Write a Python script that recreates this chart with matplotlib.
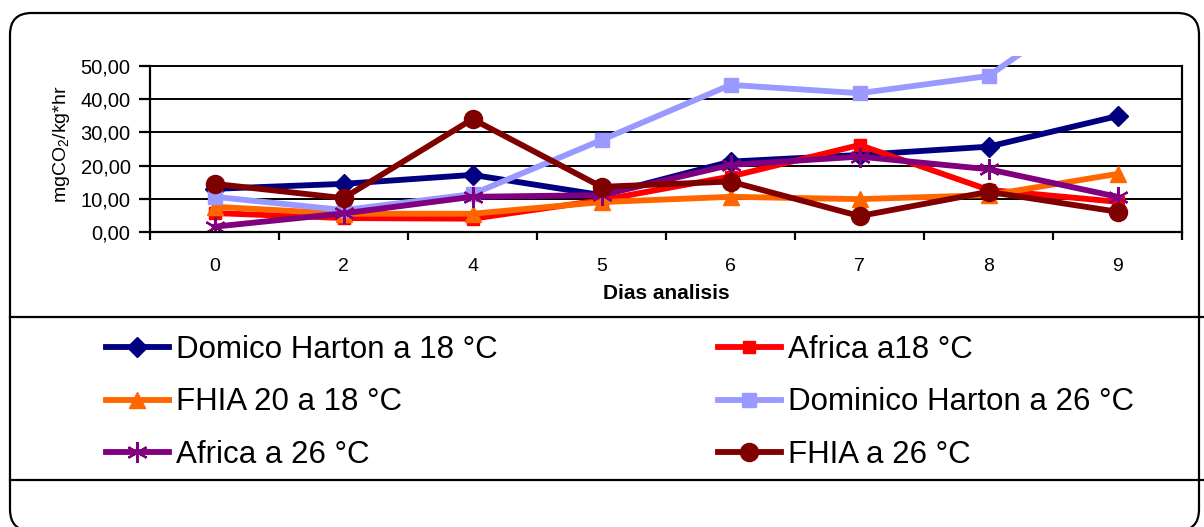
import matplotlib
matplotlib.use("Agg")
import matplotlib.pyplot as plt
from matplotlib.lines import Line2D
from matplotlib.patches import FancyBboxPatch

plt.rcParams['font.family'] = ['Liberation Sans', 'DejaVu Sans']
plt.rcParams['mathtext.fontset'] = 'custom'
plt.rcParams['mathtext.rm'] = 'Liberation Sans'
plt.rcParams['mathtext.it'] = 'Liberation Sans:italic'

# Dias de analisis (categorias del eje x)
dias = ['0', '2', '4', '5', '6', '7', '8', '9']

# Tasa respiratoria mgCO2/kg*hr por tratamiento
domico_18 = [13.0, 14.5, 17.2, 11.1, 21.2, 23.2, 25.7, 34.9]
africa_18 = [5.7, 4.2, 4.0, 9.6, 16.7, 26.2, 12.7, 9.1]
fhia20_18 = [7.6, 5.5, 5.5, 9.0, 10.6, 9.9, 11.1, 17.5]
dominico_26 = [10.6, 6.6, 11.4, 27.7, 44.3, 41.8, 47.0, 74.0]
africa_26 = [1.6, 5.6, 10.6, 11.1, 20.2, 22.7, 18.9, 10.6]
fhia_26 = [14.5, 10.2, 34.0, 13.6, 15.2, 4.8, 12.1, 6.1]

y_ticks = [0, 10, 20, 30, 40, 50]

W, H = 1204, 527
fig = plt.figure(figsize=(W / 100, H / 100), dpi=100)

# marco redondeado del grafico
marco = FancyBboxPatch((10 / W, -4 / H), 1189 / W, 518 / H,
                       boxstyle="round,pad=0,rounding_size=0.018",
                       transform=fig.transFigure, fill=False,
                       edgecolor='black', linewidth=1.6,
                       mutation_aspect=W / H)
fig.add_artist(marco)
for yy in (317, 480):
    fig.add_artist(Line2D([10 / W, 1], [1 - yy / H, 1 - yy / H],
                          transform=fig.transFigure, color='black', lw=1.6))

ax = fig.add_axes([150 / W, (H - 232) / H, 1032 / W, 176 / H])
x = range(len(dias))

series = [
    ("Domico Harton a 18 °C", domico_18, '#000080', dict(marker='D', ms=10)),
    ("Africa a18 °C", africa_18, '#FF0000', dict(marker='s', ms=9)),
    ("FHIA 20 a 18 °C", fhia20_18, '#FF6600', dict(marker='^', ms=12)),
    ("Dominico Harton a 26 °C", dominico_26, '#9999FF', dict(marker='s', ms=10.5)),
    ("Africa a 26 °C", africa_26, '#800080', dict(marker=(6, 2, 0), ms=15, mew=1.6)),
    ("FHIA a 26 °C", fhia_26, '#800000', dict(marker='o', ms=13)),
]

handles = {}
for nombre, valores, color, estilo in series:
    h, = ax.plot(x, valores, color=color, lw=4.2, mfc=color, mec=color,
                 label=nombre, **estilo)
    handles[nombre] = h

ax.set_xlim(-0.5, len(dias) - 0.5)
ax.set_ylim(0, 53)
ax.set_yticks(y_ticks)
ax.set_yticklabels([f"{v:.2f}".replace('.', ',') for v in y_ticks])
ax.set_xticks(list(x))
ax.set_xticklabels(dias)
ax.set_xticks([i - 0.5 for i in range(len(dias) + 1)], minor=True)

ax.tick_params(axis='x', which='major', length=0, pad=19, labelsize=14)
ax.tick_params(axis='x', which='minor', length=6, width=1.6, direction='out')
ax.tick_params(axis='y', length=8, width=1.6, direction='out', pad=6, labelsize=14.5)

ax.yaxis.grid(True, color='black', lw=1.4)
ax.set_axisbelow(True)
for s in ('left', 'right'):
    ax.spines[s].set_bounds(0, 50)
    ax.spines[s].set_linewidth(1.6)
ax.spines['bottom'].set_linewidth(1.6)
ax.spines['top'].set_visible(False)

ax.set_xlabel("Dias analisis", fontsize=15, fontweight='bold', labelpad=6)
ax.set_ylabel(r"mgCO$_2$/kg*hr", fontsize=14, labelpad=6)

# leyenda en dos columnas
izq = [handles["Domico Harton a 18 °C"], handles["FHIA 20 a 18 °C"], handles["Africa a 26 °C"]]
der = [handles["Africa a18 °C"], handles["Dominico Harton a 26 °C"], handles["FHIA a 26 °C"]]
kw = dict(frameon=False, fontsize=22.5, handlelength=2.0, handletextpad=0.25,
          labelspacing=0.72, loc='upper left', borderpad=0, borderaxespad=0)
fig.legend(handles=izq, bbox_to_anchor=(106 / W, 1 - 335 / H), **kw)
fig.legend(handles=der, bbox_to_anchor=(718 / W, 1 - 335 / H), **kw)

fig.savefig("out.png", dpi=100)
